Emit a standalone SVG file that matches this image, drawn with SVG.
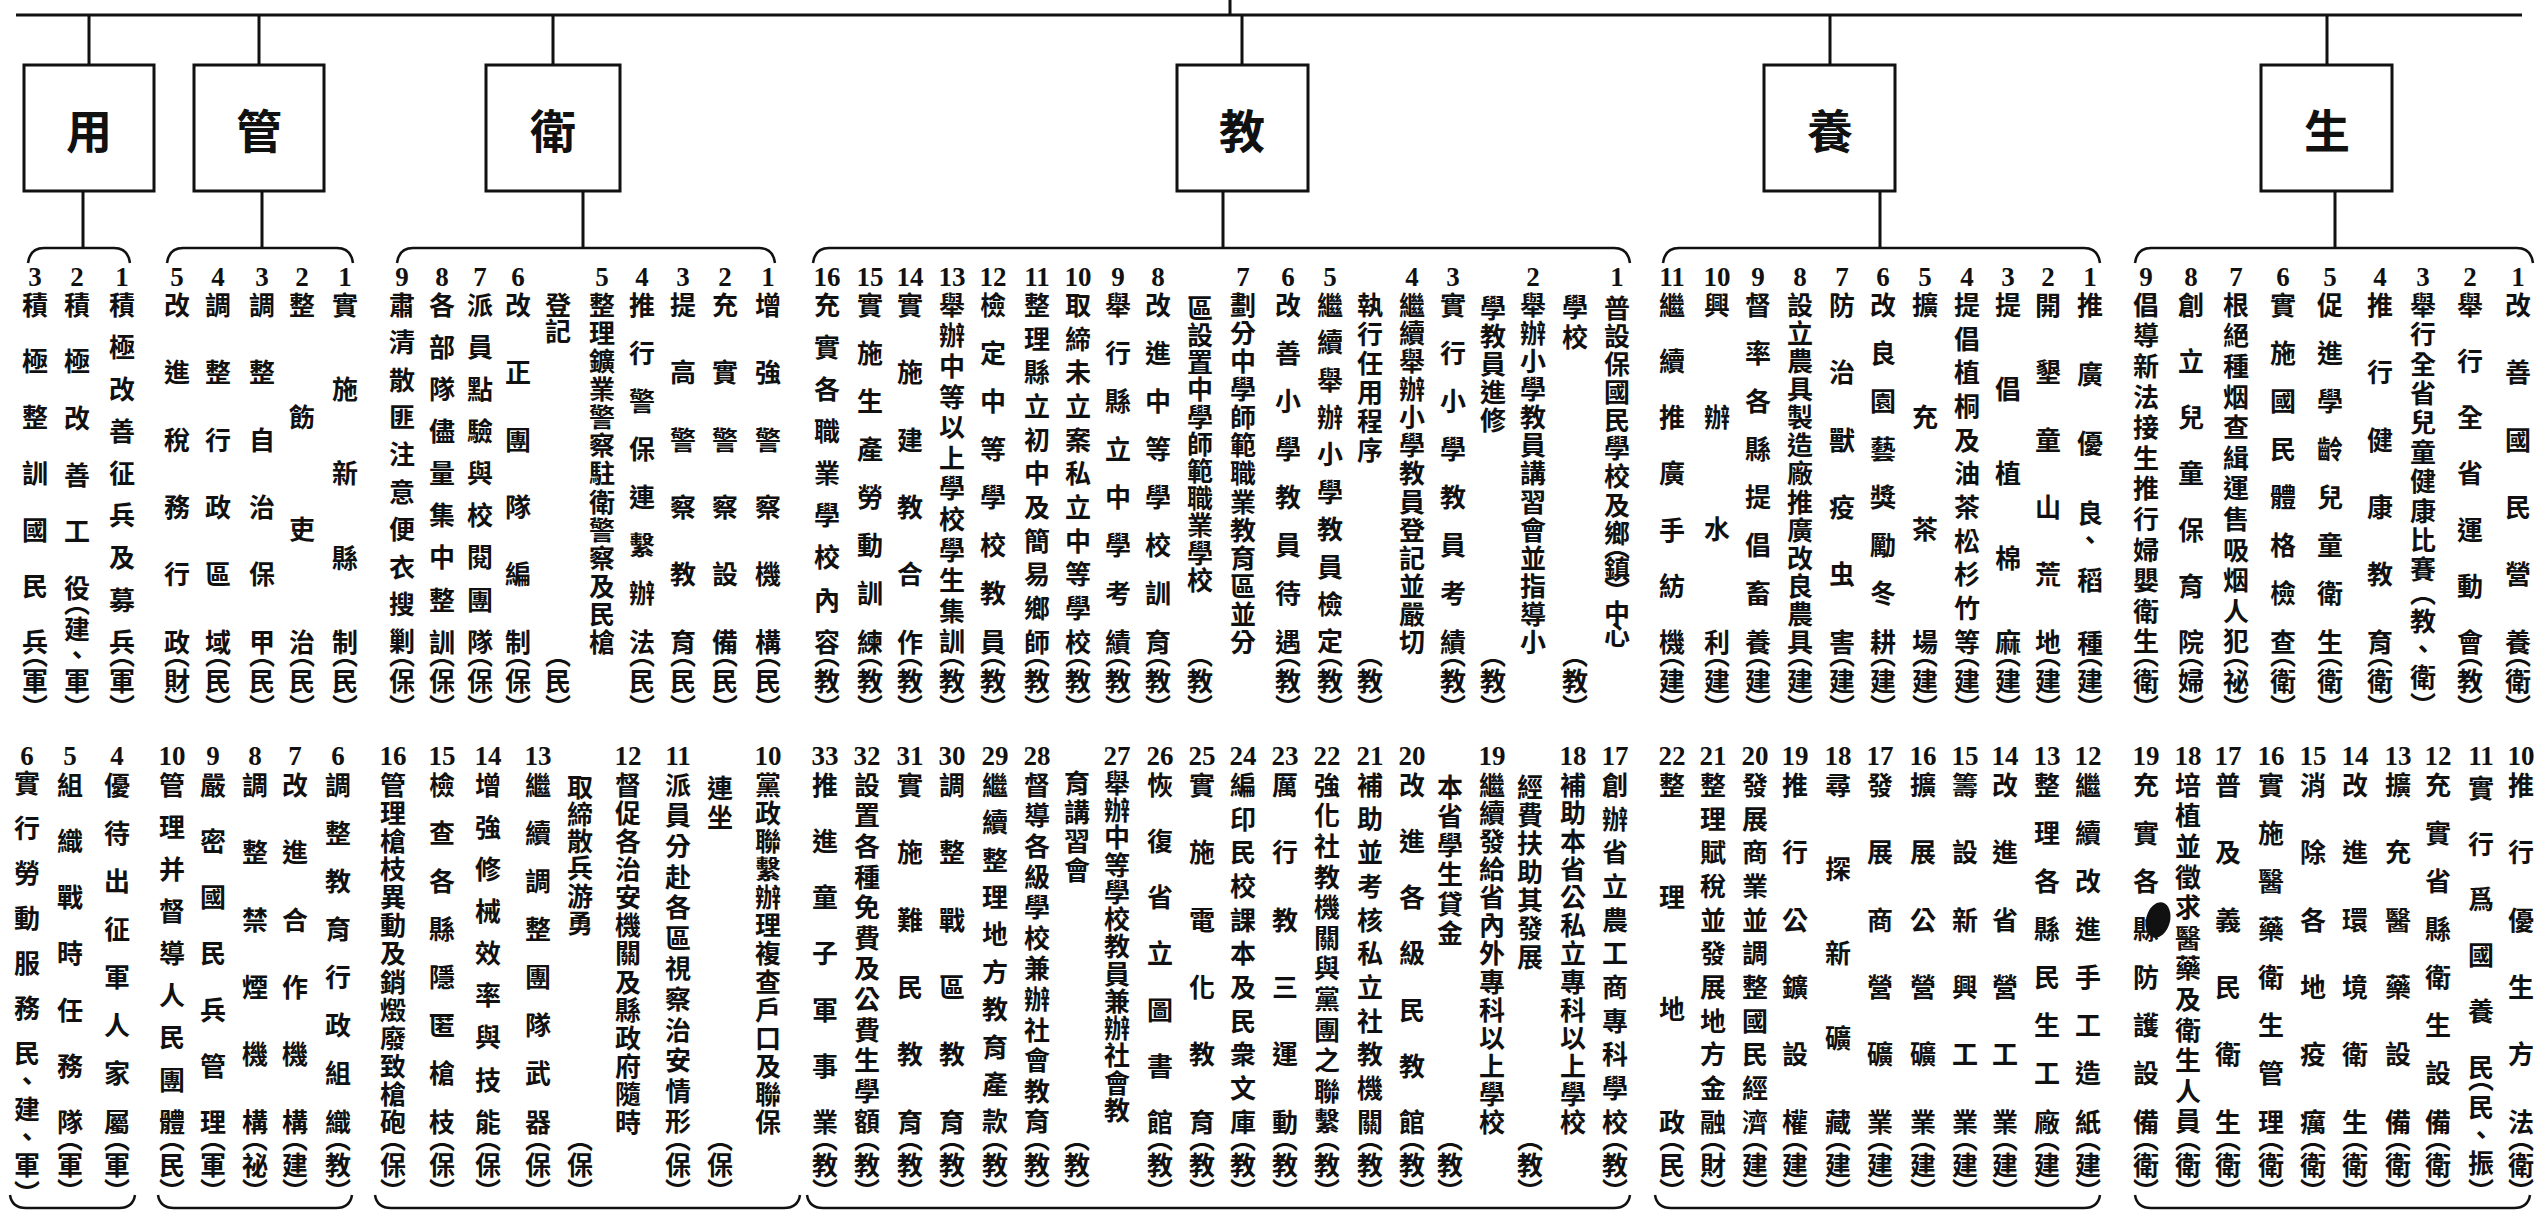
<svg xmlns="http://www.w3.org/2000/svg" width="2538" height="1211" viewBox="0 0 2538 1211">
<style>
.bx{fill:#fff;stroke:#111;stroke-width:3}
.bt{font-family:"Noto Sans CJK TC","Noto Sans CJK JP",sans-serif;font-size:46px;font-weight:700;text-anchor:middle;dominant-baseline:central;fill:#111}
.ln{fill:none;stroke:#111;stroke-width:3}
.br{fill:none;stroke:#111;stroke-width:2.5}
.n{font-family:"Liberation Serif",serif;font-size:27px;font-weight:700;text-anchor:middle;dominant-baseline:central;fill:#111}
.v{font-family:"Noto Sans CJK TC","Noto Sans CJK JP",sans-serif;font-size:26px;font-weight:700;writing-mode:vertical-rl;fill:#111}
.s4{letter-spacing:86.3px}.s5{letter-spacing:58.3px}.s6{letter-spacing:41.4px}.s7{letter-spacing:30.2px}.s8{letter-spacing:22.1px}.s9{letter-spacing:16.1px}.s10{letter-spacing:11.4px}.s11{letter-spacing:7.7px}.s12{letter-spacing:4.6px}.s13{letter-spacing:2.1px}
</style>
<rect width="2538" height="1211" fill="#fff"/>
<g id="connectors">
<path class="ln" d="M16,15 H2522 M1230,0 V15 M89,15 V65 M259,15 V65 M553,15 V65 M1242,15 V65 M1830,15 V65 M2327,15 V65"/>
<path class="ln" d="M83,191 V248 M262,191 V248 M583,191 V248 M1223,191 V248 M1880,191 V248 M2335,191 V248"/>
<path class="br" d="M28,263 Q30,248 44,248 H114 Q128,248 130,263 M167,263 Q169,248 183,248 H337 Q351,248 353,263 M397,263 Q399,248 413,248 H759 Q773,248 775,263 M813,263 Q815,248 829,248 H1614 Q1628,248 1630,263 M1663,263 Q1665,248 1679,248 H2084 Q2098,248 2100,263 M2135,263 Q2137,248 2151,248 H2517 Q2531,248 2533,263"/>
<path class="br" d="M10,1195 Q12,1208 26,1208 H119 Q133,1208 135,1195 M158,1195 Q160,1208 174,1208 H336 Q350,1208 352,1195 M375,1195 Q377,1208 391,1208 H784 Q798,1208 800,1195 M807,1195 Q809,1208 823,1208 H1614 Q1628,1208 1630,1195 M1655,1195 Q1657,1208 1671,1208 H2084 Q2098,1208 2100,1195 M2135,1195 Q2137,1208 2151,1208 H2514 Q2528,1208 2530,1195"/>
</g>
<g id="node-yong"><rect class="bx" x="24" y="65" width="130" height="126"/><text class="bt" x="89" y="128">用</text></g>
<g id="node-guan"><rect class="bx" x="194" y="65" width="130" height="126"/><text class="bt" x="259" y="128">管</text></g>
<g id="node-wei"><rect class="bx" x="486" y="65" width="134" height="126"/><text class="bt" x="553" y="128">衛</text></g>
<g id="node-jiao"><rect class="bx" x="1177" y="65" width="131" height="126"/><text class="bt" x="1242" y="128">教</text></g>
<g id="node-yang"><rect class="bx" x="1764" y="65" width="131" height="126"/><text class="bt" x="1830" y="128">養</text></g>
<g id="node-sheng"><rect class="bx" x="2261" y="65" width="131" height="126"/><text class="bt" x="2327" y="128">生</text></g>

<g id="items-yong">
<text class="n" x="122" y="277">1</text><text class="v s9" x="122" y="292">積極改善征兵及募兵</text><text class="v" x="122" y="642">︵軍︶</text>
<text class="n" x="77" y="277">2</text><text class="v" x="77" y="292" letter-spacing="30.6">積極改善工役</text><text class="v" x="77" y="590">︵建、軍︶</text>
<text class="n" x="35" y="277">3</text><text class="v s7" x="35" y="292">積極整訓國民兵</text><text class="v" x="35" y="642">︵軍︶</text>
<text class="n" x="27" y="756">6</text><text class="v" x="27" y="770" letter-spacing="19">實行勞動服務</text><text class="v" x="27" y="1040" letter-spacing="2">民、建、軍︶</text>
<text class="n" x="70" y="756">5</text><text class="v s7" x="70" y="772">組織戰時任務隊</text><text class="v" x="70" y="1126">︵軍︶</text>
<text class="n" x="117" y="756">4</text><text class="v s8" x="117" y="772">優待出征軍人家屬</text><text class="v" x="117" y="1126">︵軍︶</text>
</g>

<g id="items-guan">
<text class="n" x="345" y="277">1</text><text class="v s5" x="345" y="292">實施新縣制</text><text class="v" x="345" y="642">︵民︶</text>
<text class="n" x="302" y="277">2</text><text class="v s4" x="302" y="292">整飭吏治</text><text class="v" x="302" y="642">︵民︶</text>
<text class="n" x="262" y="277">3</text><text class="v s6" x="262" y="292">調整自治保甲</text><text class="v" x="262" y="642">︵民︶</text>
<text class="n" x="218" y="277">4</text><text class="v s6" x="218" y="292">調整行政區域</text><text class="v" x="218" y="642">︵民︶</text>
<text class="n" x="177" y="277">5</text><text class="v s6" x="177" y="292">改進稅務行政</text><text class="v" x="177" y="642">︵財︶</text>
<text class="n" x="172" y="756">10</text><text class="v s9" x="172" y="772">管理并督導人民團體</text><text class="v" x="172" y="1126">︵民︶</text>
<text class="n" x="213" y="756">9</text><text class="v s7" x="213" y="772">嚴密國民兵管理</text><text class="v" x="213" y="1126">︵軍︶</text>
<text class="n" x="255" y="756">8</text><text class="v s6" x="255" y="772">調整禁煙機構</text><text class="v" x="255" y="1126">︵祕︶</text>
<text class="n" x="295" y="756">7</text><text class="v s6" x="295" y="772">改進合作機構</text><text class="v" x="295" y="1126">︵建︶</text>
<text class="n" x="338" y="756">6</text><text class="v s8" x="338" y="772">調整教育行政組織</text><text class="v" x="338" y="1126">︵教︶</text>
</g>

<g id="items-wei">
<text class="n" x="402" y="277">9</text><text class="v s10" x="402" y="292">肅清散匪注意便衣搜剿</text><text class="v" x="402" y="642">︵保︶</text>
<text class="n" x="442" y="277">8</text><text class="v s9" x="442" y="292">各部隊儘量集中整訓</text><text class="v" x="442" y="642">︵保︶</text>
<text class="n" x="480" y="277">7</text><text class="v s9" x="480" y="292">派員點驗與校閱團隊</text><text class="v" x="480" y="642">︵保︶</text>
<text class="n" x="518" y="277">6</text><text class="v s6" x="518" y="292">改正團隊編制</text><text class="v" x="518" y="642">︵保︶</text>
<text class="v" x="558" y="292">登記</text><text class="v" x="558" y="642">︵民︶</text>
<text class="n" x="602" y="277">5</text><text class="v s13" x="602" y="292">整理鑛業警察駐衛警察及民槍</text>
<text class="n" x="642" y="277">4</text><text class="v s8" x="642" y="292">推行警保連繫辦法</text><text class="v" x="642" y="642">︵民︶</text>
<text class="n" x="683" y="277">3</text><text class="v s6" x="683" y="292">提高警察教育</text><text class="v" x="683" y="642">︵民︶</text>
<text class="n" x="725" y="277">2</text><text class="v s6" x="725" y="292">充實警察設備</text><text class="v" x="725" y="642">︵民︶</text>
<text class="n" x="768" y="277">1</text><text class="v s6" x="768" y="292">增強警察機構</text><text class="v" x="768" y="642">︵民︶</text>
<text class="n" x="393" y="756">16</text><text class="v s13" x="393" y="772">管理槍枝異動及銷燬廢致槍砲</text><text class="v" x="393" y="1126">︵保︶</text>
<text class="n" x="442" y="756">15</text><text class="v s8" x="442" y="772">檢查各縣隱匿槍枝</text><text class="v" x="442" y="1126">︵保︶</text>
<text class="n" x="488" y="756">14</text><text class="v s9" x="488" y="772">增強修械效率與技能</text><text class="v" x="488" y="1126">︵保︶</text>
<text class="n" x="538" y="756">13</text><text class="v s8" x="538" y="772">繼續調整團隊武器</text><text class="v" x="538" y="1126">︵保︶</text>
<text class="v" x="580" y="774" letter-spacing="1.2">取締散兵游勇</text><text class="v" x="580" y="1126">︵保︶</text>
<text class="n" x="628" y="756">12</text><text class="v s13" x="628" y="772">督促各治安機關及縣政府隨時</text>
<text class="n" x="678" y="756">11</text><text class="v s12" x="678" y="772">派員分赴各區視察治安情形</text><text class="v" x="678" y="1126">︵保︶</text>
<text class="v" x="720" y="775" letter-spacing="3">連坐</text><text class="v" x="720" y="1126">︵保︶</text>
<text class="n" x="768" y="756">10</text><text class="v s13" x="768" y="772">黨政聯繫辦理複查戶口及聯保</text>
</g>

<g id="items-jiao">
<text class="n" x="827" y="277">16</text><text class="v s9" x="827" y="292">充實各職業學校內容</text><text class="v" x="827" y="642">︵教︶</text>
<text class="n" x="870" y="277">15</text><text class="v s8" x="870" y="292">實施生產勞動訓練</text><text class="v" x="870" y="642">︵教︶</text>
<text class="n" x="910" y="277">14</text><text class="v s6" x="910" y="292">實施建教合作</text><text class="v" x="910" y="642">︵教︶</text>
<text class="n" x="952" y="277">13</text><text class="v s12" x="952" y="292">舉辦中等以上學校學生集訓</text><text class="v" x="952" y="642">︵教︶</text>
<text class="n" x="993" y="277">12</text><text class="v s8" x="993" y="292">檢定中等學校教員</text><text class="v" x="993" y="642">︵教︶</text>
<text class="n" x="1037" y="277">11</text><text class="v s11" x="1037" y="292">整理縣立初中及簡易鄉師</text><text class="v" x="1037" y="642">︵教︶</text>
<text class="n" x="1078" y="277">10</text><text class="v s11" x="1078" y="292">取締未立案私立中等學校</text><text class="v" x="1078" y="642">︵教︶</text>
<text class="n" x="1118" y="277">9</text><text class="v s8" x="1118" y="292">舉行縣立中學考績</text><text class="v" x="1118" y="642">︵教︶</text>
<text class="n" x="1158" y="277">8</text><text class="v s8" x="1158" y="292">改進中等學校訓育</text><text class="v" x="1158" y="642">︵教︶</text>
<text class="v" x="1200" y="295" letter-spacing="1.2">區設置中學師範職業學校</text><text class="v" x="1200" y="642">︵教︶</text>
<text class="n" x="1243" y="277">7</text><text class="v s13" x="1243" y="292">劃分中學師範職業教育區並分</text>
<text class="n" x="1288" y="277">6</text><text class="v s8" x="1288" y="292">改善小學教員待遇</text><text class="v" x="1288" y="642">︵教︶</text>
<text class="n" x="1330" y="277">5</text><text class="v s10" x="1330" y="292">繼續舉辦小學教員檢定</text><text class="v" x="1330" y="642">︵教︶</text>
<text class="v" x="1370" y="292" letter-spacing="3">執行任用程序</text><text class="v" x="1370" y="642">︵教︶</text>
<text class="n" x="1412" y="277">4</text><text class="v s13" x="1412" y="292">繼續舉辦小學教員登記並嚴切</text>
<text class="n" x="1453" y="277">3</text><text class="v s8" x="1453" y="292">實行小學教員考績</text><text class="v" x="1453" y="642">︵教︶</text>
<text class="v" x="1493" y="295" letter-spacing="2">學教員進修</text><text class="v" x="1493" y="642">︵教︶</text>
<text class="n" x="1533" y="277">2</text><text class="v s13" x="1533" y="292">舉辦小學教員講習會並指導小</text>
<text class="v" x="1575" y="294" letter-spacing="4">學校</text><text class="v" x="1575" y="642">︵教︶</text>
<text class="n" x="1617" y="277">1</text><text class="v" x="1617" y="295" letter-spacing="2.1">普設保國民學校及鄉</text><text class="v" x="1617" y="534" letter-spacing="-4">︵鎮︶中心</text>
<text class="n" x="825" y="756">33</text><text class="v s7" x="825" y="772">推進童子軍事業</text><text class="v" x="825" y="1126">︵教︶</text>
<text class="n" x="867" y="756">32</text><text class="v s12" x="867" y="772">設置各種免費及公費生學額</text><text class="v" x="867" y="1126">︵教︶</text>
<text class="n" x="910" y="756">31</text><text class="v s6" x="910" y="772">實施難民教育</text><text class="v" x="910" y="1126">︵教︶</text>
<text class="n" x="952" y="756">30</text><text class="v s6" x="952" y="772">調整戰區教育</text><text class="v" x="952" y="1126">︵教︶</text>
<text class="n" x="995" y="756">29</text><text class="v s10" x="995" y="772">繼續整理地方教育產款</text><text class="v" x="995" y="1126">︵教︶</text>
<text class="n" x="1037" y="756">28</text><text class="v s12" x="1037" y="772">督導各級學校兼辦社會教育</text><text class="v" x="1037" y="1126">︵教︶</text>
<text class="v" x="1077" y="770" letter-spacing="3">育講習會</text><text class="v" x="1077" y="1126">︵教︶</text>
<text class="n" x="1117" y="756">27</text><text class="v" x="1117" y="770" letter-spacing="1.25">舉辦中等學校教員兼辦社會教</text>
<text class="n" x="1160" y="756">26</text><text class="v s7" x="1160" y="772">恢復省立圖書館</text><text class="v" x="1160" y="1126">︵教︶</text>
<text class="n" x="1202" y="756">25</text><text class="v s6" x="1202" y="772">實施電化教育</text><text class="v" x="1202" y="1126">︵教︶</text>
<text class="n" x="1243" y="756">24</text><text class="v s11" x="1243" y="772">編印民校課本及民衆文庫</text><text class="v" x="1243" y="1126">︵教︶</text>
<text class="n" x="1285" y="756">23</text><text class="v s6" x="1285" y="772">厲行教三運動</text><text class="v" x="1285" y="1126">︵教︶</text>
<text class="n" x="1327" y="756">22</text><text class="v s12" x="1327" y="772">強化社教機關與黨團之聯繫</text><text class="v" x="1327" y="1126">︵教︶</text>
<text class="n" x="1370" y="756">21</text><text class="v s11" x="1370" y="772">補助並考核私立社教機關</text><text class="v" x="1370" y="1126">︵教︶</text>
<text class="n" x="1412" y="756">20</text><text class="v s7" x="1412" y="772">改進各級民教館</text><text class="v" x="1412" y="1126">︵教︶</text>
<text class="v" x="1450" y="774" letter-spacing="3.2">本省學生貸金</text><text class="v" x="1450" y="1126">︵教︶</text>
<text class="n" x="1492" y="756">19</text><text class="v s13" x="1492" y="772">繼續發給省內外專科以上學校</text>
<text class="v" x="1530" y="774" letter-spacing="2.3">經費扶助其發展</text><text class="v" x="1530" y="1126">︵教︶</text>
<text class="n" x="1573" y="756">18</text><text class="v s13" x="1573" y="772">補助本省公私立專科以上學校</text>
<text class="n" x="1615" y="756">17</text><text class="v s11" x="1615" y="772">創辦省立農工商專科學校</text><text class="v" x="1615" y="1126">︵教︶</text>
</g>

<g id="items-yang">
<text class="n" x="1672" y="277">11</text><text class="v s7" x="1672" y="292">繼續推廣手紡機</text><text class="v" x="1672" y="642">︵建︶</text>
<text class="n" x="1717" y="277">10</text><text class="v s4" x="1717" y="292">興辦水利</text><text class="v" x="1717" y="642">︵建︶</text>
<text class="n" x="1758" y="277">9</text><text class="v s8" x="1758" y="292">督率各縣提倡畜養</text><text class="v" x="1758" y="642">︵建︶</text>
<text class="n" x="1800" y="277">8</text><text class="v s13" x="1800" y="292">設立農具製造廠推廣改良農具</text><text class="v" x="1800" y="642">︵建︶</text>
<text class="n" x="1842" y="277">7</text><text class="v s6" x="1842" y="292">防治獸疫虫害</text><text class="v" x="1842" y="642">︵建︶</text>
<text class="n" x="1883" y="277">6</text><text class="v s8" x="1883" y="292">改良園藝獎勵冬耕</text><text class="v" x="1883" y="642">︵建︶</text>
<text class="n" x="1925" y="277">5</text><text class="v s4" x="1925" y="292">擴充茶場</text><text class="v" x="1925" y="642">︵建︶</text>
<text class="n" x="1967" y="277">4</text><text class="v s11" x="1967" y="292">提倡植桐及油茶松杉竹等</text><text class="v" x="1967" y="642">︵建︶</text>
<text class="n" x="2008" y="277">3</text><text class="v s5" x="2008" y="292">提倡植棉麻</text><text class="v" x="2008" y="642">︵建︶</text>
<text class="n" x="2048" y="277">2</text><text class="v s6" x="2048" y="292">開墾童山荒地</text><text class="v" x="2048" y="642">︵建︶</text>
<text class="n" x="2090" y="277">1</text><text class="v" x="2090" y="292" letter-spacing="43.3">推廣優良</text><text class="v" x="2090" y="527">、</text><text class="v" x="2090" y="567" letter-spacing="37">稻種</text><text class="v" x="2090" y="642">︵建︶</text>
<text class="n" x="1672" y="756">22</text><text class="v s4" x="1672" y="772">整理地政</text><text class="v" x="1672" y="1126">︵民︶</text>
<text class="n" x="1713" y="756">21</text><text class="v s11" x="1713" y="772">整理賦稅並發展地方金融</text><text class="v" x="1713" y="1126">︵財︶</text>
<text class="n" x="1755" y="756">20</text><text class="v s11" x="1755" y="772">發展商業並調整國民經濟</text><text class="v" x="1755" y="1126">︵建︶</text>
<text class="n" x="1795" y="756">19</text><text class="v s6" x="1795" y="772">推行公鑛設權</text><text class="v" x="1795" y="1126">︵建︶</text>
<text class="n" x="1838" y="756">18</text><text class="v s5" x="1838" y="772">尋探新礦藏</text><text class="v" x="1838" y="1126">︵建︶</text>
<text class="n" x="1880" y="756">17</text><text class="v s6" x="1880" y="772">發展商營礦業</text><text class="v" x="1880" y="1126">︵建︶</text>
<text class="n" x="1923" y="756">16</text><text class="v s6" x="1923" y="772">擴展公營礦業</text><text class="v" x="1923" y="1126">︵建︶</text>
<text class="n" x="1965" y="756">15</text><text class="v s6" x="1965" y="772">籌設新興工業</text><text class="v" x="1965" y="1126">︵建︶</text>
<text class="n" x="2005" y="756">14</text><text class="v s6" x="2005" y="772">改進省營工業</text><text class="v" x="2005" y="1126">︵建︶</text>
<text class="n" x="2047" y="756">13</text><text class="v s8" x="2047" y="772">整理各縣民生工廠</text><text class="v" x="2047" y="1126">︵建︶</text>
<text class="n" x="2088" y="756">12</text><text class="v s8" x="2088" y="772">繼續改進手工造紙</text><text class="v" x="2088" y="1126">︵建︶</text>
</g>

<g id="items-sheng">
<text class="n" x="2146" y="277">9</text><text class="v s12" x="2146" y="292">倡導新法接生推行婦嬰衛生</text><text class="v" x="2146" y="642">︵衛︶</text>
<text class="n" x="2191" y="277">8</text><text class="v s7" x="2191" y="292">創立兒童保育院</text><text class="v" x="2191" y="642">︵婦︶</text>
<text class="n" x="2236" y="277">7</text><text class="v s12" x="2236" y="292">根絕種烟查緝運售吸烟人犯</text><text class="v" x="2236" y="642">︵祕︶</text>
<text class="n" x="2283" y="277">6</text><text class="v s8" x="2283" y="292">實施國民體格檢查</text><text class="v" x="2283" y="642">︵衛︶</text>
<text class="n" x="2330" y="277">5</text><text class="v s8" x="2330" y="292">促進學齡兒童衛生</text><text class="v" x="2330" y="642">︵衛︶</text>
<text class="n" x="2380" y="277">4</text><text class="v s6" x="2380" y="292">推行健康教育</text><text class="v" x="2380" y="642">︵衛︶</text>
<text class="n" x="2423" y="277">3</text><text class="v" x="2423" y="292" letter-spacing="3.4">舉行全省兒童健康比賽</text><text class="v" x="2423" y="580" letter-spacing="2">︵教、衛︶</text>
<text class="n" x="2470" y="277">2</text><text class="v s7" x="2470" y="292">舉行全省運動會</text><text class="v" x="2470" y="642">︵教︶</text>
<text class="n" x="2518" y="277">1</text><text class="v s6" x="2518" y="292">改善國民營養</text><text class="v" x="2518" y="642">︵衛︶</text>
<text class="n" x="2146" y="756">19</text><text class="v s8" x="2146" y="772">充實各縣防護設備</text><text class="v" x="2146" y="1126">︵衛︶</text>
<text class="n" x="2188" y="756">18</text><text class="v s12" x="2188" y="772">培植並徵求醫藥及衛生人員</text><text class="v" x="2188" y="1126">︵衛︶</text>
<text class="n" x="2228" y="756">17</text><text class="v s6" x="2228" y="772">普及義民衛生</text><text class="v" x="2228" y="1126">︵衛︶</text>
<text class="n" x="2271" y="756">16</text><text class="v s8" x="2271" y="772">實施醫藥衛生管理</text><text class="v" x="2271" y="1126">︵衛︶</text>
<text class="n" x="2313" y="756">15</text><text class="v s6" x="2313" y="772">消除各地疫癘</text><text class="v" x="2313" y="1126">︵衛︶</text>
<text class="n" x="2355" y="756">14</text><text class="v s6" x="2355" y="772">改進環境衛生</text><text class="v" x="2355" y="1126">︵衛︶</text>
<text class="n" x="2398" y="756">13</text><text class="v s6" x="2398" y="772">擴充醫藥設備</text><text class="v" x="2398" y="1126">︵衛︶</text>
<text class="n" x="2438" y="756">12</text><text class="v s8" x="2438" y="772">充實省縣衛生設備</text><text class="v" x="2438" y="1126">︵衛︶</text>
<text class="n" x="2481" y="756">11</text><text class="v" x="2481" y="775" letter-spacing="29.8">實行爲國養民</text><text class="v" x="2481" y="1066" letter-spacing="2">︵民、振︶</text>
<text class="n" x="2521" y="756">10</text><text class="v s6" x="2521" y="772">推行優生方法</text><text class="v" x="2521" y="1126">︵衛︶</text>
</g>
<ellipse cx="2158" cy="920" rx="12" ry="18" fill="#111" transform="rotate(15 2158 920)"/>
</svg>
